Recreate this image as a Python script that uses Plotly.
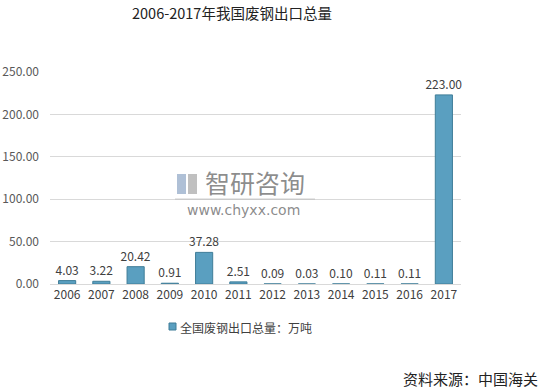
import plotly.graph_objects as go

years = ["2006", "2007", "2008", "2009", "2010", "2011", "2012", "2013", "2014", "2015", "2016", "2017"]
values = [4.03, 3.22, 20.42, 0.91, 37.28, 2.51, 0.09, 0.03, 0.10, 0.11, 0.11, 223.00]
series_name = "全国废钢出口总量：万吨"
title_text = "2006-2017年我国废钢出口总量"
source_text = "资料来源：中国海关"
y_ticks = [0, 50, 100, 150, 200, 250]

W, H = 544, 392
L, R, T, B = 50, 83, 72, 108
pw, ph = W - L - R, H - T - B

def px_x(x):
    return (x - L) / pw

def px_y(y):
    return (H - B - y) / ph

font_cjk = "Noto Sans CJK SC, Microsoft YaHei, sans-serif"
bar_color = "#5a9fc0"

fig = go.Figure()
fig.add_trace(go.Bar(
    x=years, y=values, name=series_name,
    marker=dict(color=bar_color, line=dict(color="#3f7d98", width=1)),
    text=[f"{v:.2f}" for v in values], textposition="outside",
    textfont=dict(size=12, color="#404040", family=font_cjk),
    constraintext="none",
    cliponaxis=False,
    showlegend=False,
    hoverinfo="skip",
))

fig.update_layout(
    width=W, height=H,
    margin=dict(l=L, r=R, t=T, b=B, autoexpand=False),
    paper_bgcolor="white", plot_bgcolor="white",
    bargap=0.5,
    showlegend=False,
    font=dict(family=font_cjk),
)
fig.update_xaxes(showgrid=False, showline=True, linecolor="#d9d9d9", linewidth=1, automargin=False,
                 tickfont=dict(size=12, color="#404040", family=font_cjk), ticks="")
fig.update_yaxes(range=[0, 250], tickvals=y_ticks, ticktext=[f"{v:.2f}" for v in y_ticks],
                 showgrid=True, gridcolor="#d9d9d9", gridwidth=1, zeroline=False, automargin=False,
                 tickfont=dict(size=12, color="#595959", family=font_cjk), ticks="",
                 ticklabelstandoff=10)

fig.add_annotation(text=title_text, xref="paper", yref="paper", x=px_x(232), y=px_y(13),
                   xanchor="center", yanchor="middle", showarrow=False,
                   font=dict(size=14.5, color="#222222", family=font_cjk))
fig.add_annotation(text=source_text, xref="paper", yref="paper", x=px_x(540), y=px_y(378),
                   xanchor="right", yanchor="middle", showarrow=False,
                   font=dict(size=15, color="#222222", family=font_cjk))
# legend (drawn manually)
fig.add_shape(type="rect", xref="paper", yref="paper",
              x0=px_x(169), x1=px_x(176), y0=px_y(323), y1=px_y(330),
              fillcolor=bar_color, line=dict(color="#3f7d98", width=1))
fig.add_annotation(text=series_name, xref="paper", yref="paper", x=px_x(178), y=px_y(327),
                   xanchor="left", yanchor="middle", showarrow=False,
                   font=dict(size=12, color="#404040", family=font_cjk))
# watermark
fig.add_shape(type="rect", xref="paper", yref="paper",
              x0=px_x(177), x1=px_x(186), y0=px_y(174), y1=px_y(194),
              fillcolor="rgba(110,140,180,0.55)", line=dict(width=0))
fig.add_shape(type="rect", xref="paper", yref="paper",
              x0=px_x(188), x1=px_x(197), y0=px_y(174), y1=px_y(194),
              fillcolor="rgba(130,130,130,0.5)", line=dict(width=0))
fig.add_annotation(text="智研咨询", xref="paper", yref="paper", x=px_x(255), y=px_y(182),
                   xanchor="center", yanchor="middle", showarrow=False, borderpad=0,
                   font=dict(size=25, color="rgba(110,110,110,0.8)", family=font_cjk))
fig.add_shape(type="line", xref="paper", yref="paper",
              x0=px_x(175), x1=px_x(315), y0=px_y(199), y1=px_y(199),
              line=dict(color="rgba(160,160,160,0.5)", width=1))
fig.add_annotation(text="www.chyxx.com", xref="paper", yref="paper", x=px_x(243), y=px_y(210),
                   xanchor="center", yanchor="middle", showarrow=False, borderpad=0,
                   font=dict(size=14, color="rgba(110,110,110,0.8)", family="DejaVu Sans"))

fig.write_html("out.html", config={"displayModeBar": False},
               post_script="document.body.style.margin='0';")
